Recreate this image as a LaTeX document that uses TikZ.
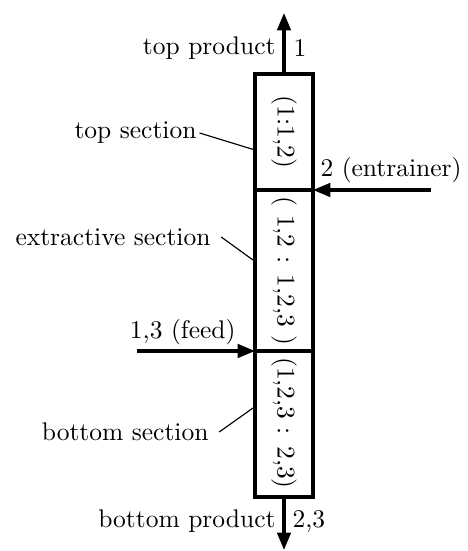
\documentclass[tikz,border=0pt]{standalone}
\usetikzlibrary{arrows.meta}
\begin{document}
\begin{tikzpicture}[x=0.3922pt,y=-0.3922pt,
  sect/.style={draw,line width=1.2pt,inner sep=0pt},
  flow/.style={line width=1.2pt,-{Triangle[length=6.8pt,width=5.3pt]}},
  lead/.style={line width=0.45pt},
  lbl/.style={inner sep=0pt,font=\normalsize}]
\useasboundingbox (0,0) rectangle (467,551);
% sections
\draw[sect] (255,74) rectangle (313,190);
\draw[sect] (255,190) rectangle (313,351);
\draw[sect] (255,351) rectangle (313,497);
\node[lbl,rotate=-90] (ts) at (284,132) {(1:1,2)};
\node[lbl,rotate=-90] (es) at (284,271) {( 1,2 : 1,2,3 )};
\node[lbl,rotate=-90] (bs) at (284,423) {(1,2,3 : 2,3)};
\coordinate (ctop) at (284,74);
\coordinate (cbot) at (284,497);
\coordinate (ptop) at (284,13);
\coordinate (pbot) at (284,550);
\coordinate (eR) at (313,190);
\coordinate (eS) at (431,190);
\coordinate (fL) at (255,351);
\coordinate (fS) at (137,351);
% flows
\draw[flow] (ctop) -- (ptop);
\draw[flow] (cbot) -- (pbot);
\draw[flow] (eS) -- (eR);
\draw[flow] (fS) -- (fL);
% labels
\node[lbl,anchor=east] (tpl) at (276,48) {top product};
\node[lbl,anchor=west] (tpn) at (293,48) {1};
\node[lbl,anchor=east] (bpl) at (276,521) {bottom product};
\node[lbl,anchor=west] (bpn) at (292,521) {2,3};
\node[lbl,anchor=west] (ent) at (320,170) {2 (entrainer)};
\node[lbl,anchor=east] (feed) at (236,332) {1,3 (feed)};
\node[lbl,anchor=east] (tsl) at (197,133) {top section};
\node[lbl,anchor=east] (esl) at (211,237) {extractive section};
\node[lbl,anchor=east] (bsl) at (209,432) {bottom section};
\coordinate (t1) at (255,150);
\coordinate (e1) at (253,260);
\coordinate (b1) at (253,408);
\draw[lead] ([xshift=1pt]tsl.east) -- (t1);
\draw[lead] ([xshift=4pt]esl.east) -- (e1);
\draw[lead] ([xshift=4pt]bsl.east) -- (b1);
\end{tikzpicture}
\end{document}
